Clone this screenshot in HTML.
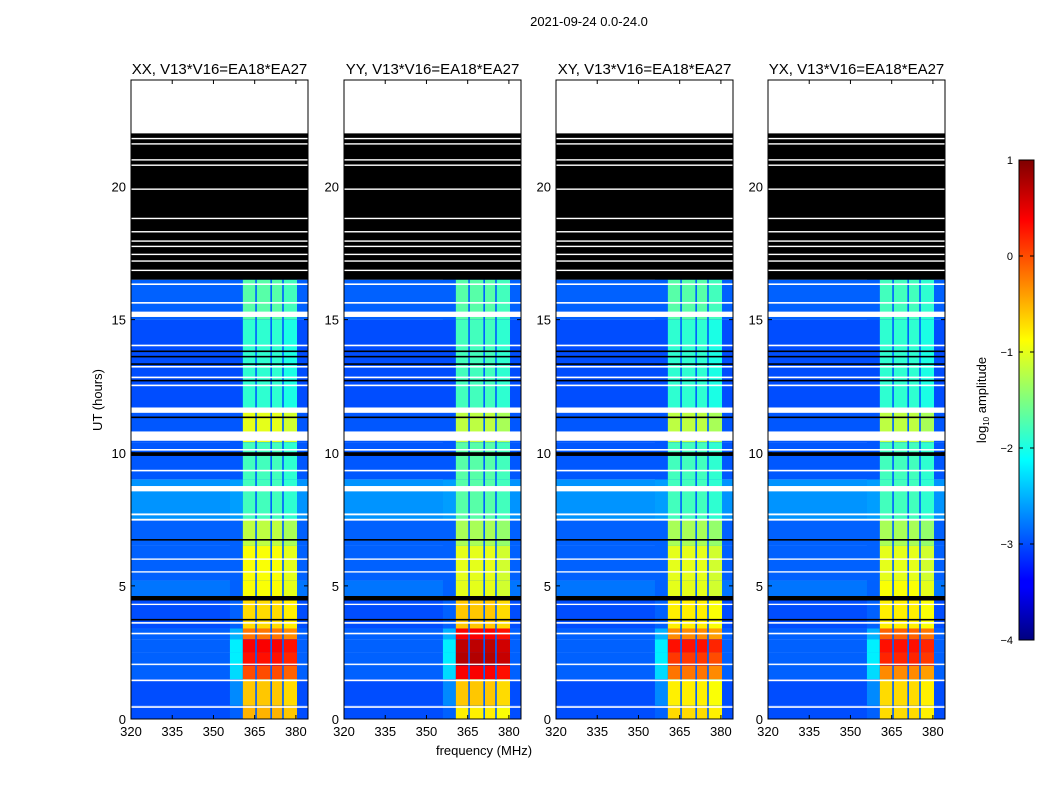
<!DOCTYPE html>
<html><head><meta charset="utf-8">
<style>
body{margin:0;background:#fff;width:1050px;height:800px;overflow:hidden;font-family:"Liberation Sans",sans-serif;}
svg text{font-family:"Liberation Sans",sans-serif;fill:#000;}
</style></head>
<body>
<svg id="fig" width="1050" height="800" xmlns="http://www.w3.org/2000/svg">
<text x="589" y="26" font-size="13" text-anchor="middle">2021-09-24 0.0-24.0</text>
<text transform="translate(102,400) rotate(-90)" font-size="13" text-anchor="middle">UT (hours)</text>
<text x="484" y="755" font-size="13" text-anchor="middle">frequency (MHz)</text>
<defs><linearGradient id="jet" x1="0" y1="1" x2="0" y2="0">
<stop offset="0" stop-color="#00007f"/><stop offset="0.11" stop-color="#0000ff"/><stop offset="0.125" stop-color="#0000ff"/>
<stop offset="0.375" stop-color="#00ffff"/><stop offset="0.625" stop-color="#ffff00"/><stop offset="0.875" stop-color="#ff0000"/><stop offset="1" stop-color="#7f0000"/>
</linearGradient></defs>
<rect x="1019" y="160" width="15" height="480" fill="url(#jet)" stroke="#000" stroke-width="1"/>
<text transform="translate(986,400) rotate(-90)" font-size="13" text-anchor="middle">log<tspan font-size="8" dy="3">10</tspan><tspan dy="-3"> amplitude</tspan></text>
<g id="cbticks"></g>
<g id="panels"></g>
</svg>
<script>
const panelNames=["XX","YY","XY","YX"];
const panelLeft=[131,344,556,768];
const segStart=[0,0.5,1.5,2.0,2.5,3.0,3.4,4.5,5.2,6.5,7.5,9.0,10.4,11.6,13.3,15.0];
const segEnd=[0.5,1.5,2.0,2.5,3.0,3.4,4.5,5.2,6.5,7.5,9.0,10.4,11.6,13.3,15.0,16.5];
const bgLevel=[-3.0,-3.0,-2.9,-2.9,-2.9,-2.9,-3.0,-2.8,-2.9,-2.9,-2.65,-2.95,-2.95,-3.0,-3.0,-2.9];
const bandXX=[-0.5,-0.6,0.0,0.3,0.4,-0.2,-0.7,-0.9,-0.9,-1.2,-1.8,-1.8,-1.0,-1.9,-1.9,-1.7];
const bandYY=[-0.8,-0.6,0.4,0.75,0.7,0.4,-0.6,-1.0,-1.0,-1.3,-1.7,-1.7,-1.2,-1.8,-1.8,-1.7];
const bandXY=[-0.7,-0.8,-0.2,0.1,0.3,-0.3,-0.8,-1.0,-1.0,-1.3,-1.8,-1.8,-1.2,-1.9,-1.9,-1.7];
const bandYX=[-0.7,-0.7,-0.3,0.2,0.3,-0.1,-0.8,-0.9,-1.0,-1.3,-1.8,-1.8,-1.2,-1.9,-1.9,-1.8];
const wingLevel=[-2.9,-2.7,-2.3,-2.2,-2.2,-2.5,-2.9,-2.9,-2.9,-2.9,-2.6,-2.95,-2.95,-3.0,-3.0,-2.9];
const bandLo=[360.7,365.8,371.3,375.6];
const bandHi=[365.2,370.7,375.0,380.4];
const whiteLines=[[0.42,0.48],[1.42,1.48],[2.03,2.08],[3.18,3.24],[3.58,3.64],[4.28,4.33],[5.5,5.55],[5.98,6.03],[7.45,7.52],[7.65,7.72],[8.55,8.75],[9.3,9.36],[10.08,10.14],[10.45,10.8],[11.5,11.7],[12.5,12.56],[12.8,12.86],[13.2,13.26],[14.0,14.06],[15.1,15.3],[15.6,15.66],[16.3,16.36],[22,24]];
const blackLines=[[3.7,3.76],[4.45,4.62],[6.7,6.76],[9.88,10.02],[11.3,11.36],[12.68,12.74],[13.3,13.36],[13.58,13.64],[13.78,13.84],[16.5,22]];
const whiteInBlack=[16.85,17.2,17.45,17.75,17.95,18.3,18.8,19.9,20.8,21.0,21.6,21.8];
const xTicks=[320,335,350,365,380];
const yTicks=[0,5,10,15,20];
const cbTicks=[1,0,-1,-2,-3,-4];
const bands=[bandXX,bandYY,bandXY,bandYX];

const NS="http://www.w3.org/2000/svg";
const fMin=320,fMax=384.4,tMin=0,tMax=24,pw=177,axTop=80,axBot=719;
const yS=t=>axBot-(t-tMin)/(tMax-tMin)*(axBot-axTop);
function jet(v){let t=(v+4)/5;t=Math.max(0,Math.min(1,t));const c=x=>Math.round(255*Math.max(0,Math.min(1,1.5-Math.abs(4*t-x))));return `rgb(${c(3)},${c(2)},${c(1)})`;}
function mk(tag,attrs,parent){const e=document.createElementNS(NS,tag);for(const k in attrs)e.setAttribute(k,attrs[k]);parent.appendChild(e);return e;}
const root=document.getElementById('panels');
panelNames.forEach((nm,p)=>{
  const L=panelLeft[p];
  const xS=f=>L+(f-fMin)/(fMax-fMin)*pw;
  const g=mk('g',{},root);
  
  
  const title=mk('text',{x:L+pw/2,y:74,'font-size':15,'text-anchor':'middle'},g);
  title.textContent=nm+", V13*V16=EA18*EA27";
  
  
  for(let i=0;i<segStart.length;i++){
    const y0=yS(segEnd[i]),h=yS(segStart[i])-y0;
    const bgR=mk('rect',{x:L,y:y0,width:pw,height:h,fill:jet(bgLevel[i])},g);
    
    
    const w=mk('rect',{x:xS(356),y:y0,width:xS(360.7)-xS(356),height:h,fill:jet(wingLevel[i])},g);
    
    
    const gp=mk('rect',{x:xS(bandLo[0]),y:y0,width:xS(bandHi[3])-xS(bandLo[0]),height:h,fill:jet(-2.9)},g);
    
    
    for(let b=0;b<bandLo.length;b++){
      const r=mk('rect',{x:xS(bandLo[b]),y:y0,width:xS(bandHi[b])-xS(bandLo[b]),height:h,fill:jet(bands[p][i]-(b==3?0.1:0))},g);
      
      
    }
  }
  blackLines.forEach(([a,b])=>{const r=mk('rect',{x:L,y:yS(b),width:pw,height:Math.max(1.2,yS(a)-yS(b)),fill:'#000'},g);
    
    });
  whiteLines.forEach(([a,b])=>{const r=mk('rect',{x:L,y:yS(b),width:pw,height:Math.max(1.2,yS(a)-yS(b)),fill:'#fff'},g);
    
    });
  whiteInBlack.forEach(t=>{const r=mk('rect',{x:L,y:yS(t)-0.7,width:pw,height:1.4,fill:'#fff'},g);
    
    });
  const fr=mk('rect',{x:L,y:axTop,width:pw,height:axBot-axTop,fill:'none',stroke:'#000','stroke-width':1},g);
  
  
  xTicks.forEach(f=>{const x=xS(f);
    mk('line',{x1:x,x2:x,y1:axBot,y2:axBot-4,stroke:'#000'},g);mk('line',{x1:x,x2:x,y1:axTop,y2:axTop+4,stroke:'#000'},g);
    const t=mk('text',{x:x,y:axBot+17,'font-size':13,'text-anchor':'middle'},g);t.textContent=f;
    
    });
  yTicks.forEach(v=>{const y=yS(v);
    mk('line',{x1:L,x2:L+4,y1:y,y2:y,stroke:'#000'},g);mk('line',{x1:L+pw,x2:L+pw-4,y1:y,y2:y,stroke:'#000'},g);
    const t=mk('text',{x:L-5,y:y+5,'font-size':13,'text-anchor':'end'},g);t.textContent=v;
    
    });
});
const cb=document.getElementById('cbticks');
cbTicks.forEach(v=>{const y=160+(1-v)/5*480;
  mk('line',{x1:1019,x2:1023,y1:y,y2:y,stroke:'#000'},cb);mk('line',{x1:1030,x2:1034,y1:y,y2:y,stroke:'#000'},cb);
  const t=mk('text',{x:1013,y:y+4,'font-size':11,'text-anchor':'end'},cb);t.textContent=v<0?'\u2212'+(-v):v;
  
  });
</script>
</body></html>
